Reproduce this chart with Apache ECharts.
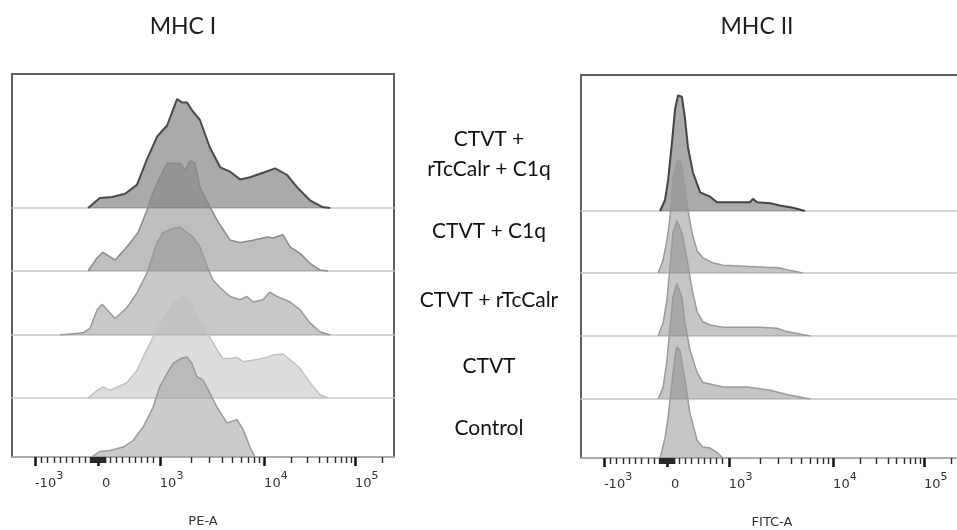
<!DOCTYPE html>
<html><head><meta charset="utf-8">
<script src="https://cdn.jsdelivr.net/npm/echarts@6/dist/echarts.min.js"></script>
<style>html,body{margin:0;padding:0;background:#fff}#c{width:957px;height:530px}</style>
</head><body><div id="c"></div>
<script>
// ---------- text ----------
const panelTitles = ['MHC I', 'MHC II'];
const axisNames = ['PE-A', 'FITC-A'];
const sampleNames = ['CTVT +\nrTcCalr + C1q', 'CTVT + C1q', 'CTVT + rTcCalr', 'CTVT', 'Control'];
const tickValues = [-1000, 0, 1000, 10000, 100000];
const tickLabels = [['-10', '3'], [' 0', ' '], ['10', '3'], ['10', '4'], ['10', '5']];

// ---------- histogram data: [display channel 0-1000, count] ----------
// MHC I (PE-A)
const mhc1_rTcCalr_C1q = [[199,0],[230,9],[262,10],[296,13],[327,21],[353,44],[380,65],[406,75],[432,99],[445,96],[458,96],[471,89],[492,80],[518,55],[545,37],[571,33],[597,26],[623,28],[657,32],[689,36],[720,30],[746,19],[780,7],[812,1],[833,0]];
const mhc1_C1q = [[199,0],[223,12],[238,17],[270,10],[301,22],[330,35],[353,55],[369,71],[387,85],[406,98],[440,98],[453,92],[466,100],[479,98],[492,76],[511,63],[537,46],[571,28],[597,26],[631,28],[668,31],[683,30],[709,33],[728,22],[754,16],[780,7],[806,1],[827,0]];
const mhc1_rTcCalr = [[126,0],[186,2],[204,6],[223,23],[236,28],[249,23],[270,15],[301,25],[327,38],[353,56],[380,84],[395,93],[422,97],[440,98],[458,93],[474,89],[492,80],[511,62],[526,50],[545,43],[571,35],[597,32],[615,35],[631,30],[657,32],[675,39],[694,35],[728,30],[754,23],[780,11],[806,3],[833,0]];
const mhc1_CTVT = [[199,0],[223,7],[238,10],[257,7],[301,14],[327,25],[353,44],[369,55],[380,62],[395,71],[422,86],[448,92],[466,89],[484,74],[500,66],[513,58],[537,44],[552,36],[571,36],[589,37],[605,33],[641,35],[668,37],[683,39],[709,40],[728,35],[754,27],[780,14],[806,3],[827,0]];
const mhc1_Control = [[209,0],[217,2],[230,5],[257,6],[291,9],[317,15],[343,27],[369,45],[387,64],[406,76],[422,85],[445,90],[458,91],[471,85],[484,73],[500,70],[518,58],[537,45],[563,31],[589,34],[605,25],[623,9],[636,0]];
// MHC II (FITC-A)
const mhc2_rTcCalr_C1q = [[207,0],[220,10],[228,28],[238,62],[246,92],[254,105],[264,104],[272,85],[280,58],[293,35],[312,17],[338,13],[356,8],[442,8],[450,11],[461,8],[495,7],[521,5],[555,3],[586,0]];
const mhc2_C1q = [[202,0],[215,12],[225,30],[233,50],[241,85],[249,98],[254,103],[262,100],[272,78],[280,57],[291,36],[304,20],[319,14],[346,9],[372,7],[495,5],[513,5],[539,3],[581,0]];
const mhc2_rTcCalr = [[202,0],[215,12],[225,33],[233,63],[241,94],[251,105],[264,94],[278,69],[291,42],[304,22],[319,13],[338,10],[372,8],[424,8],[469,8],[513,7],[539,4],[600,0]];
const mhc2_CTVT = [[202,0],[215,11],[225,35],[233,65],[241,93],[251,105],[264,93],[272,69],[285,45],[304,24],[319,15],[346,13],[372,11],[435,11],[495,8],[539,4],[600,0]];
const mhc2_Control = [[207,0],[220,18],[228,37],[238,68],[246,92],[251,101],[259,98],[272,71],[285,41],[304,16],[319,10],[338,9],[356,5],[372,0]];

const panelData = [
  [mhc1_rTcCalr_C1q, mhc1_C1q, mhc1_rTcCalr, mhc1_CTVT, mhc1_Control],
  [mhc2_rTcCalr_C1q, mhc2_C1q, mhc2_rTcCalr, mhc2_CTVT, mhc2_Control]
];

// ---------- display scale (biexponential-like: linear near 0, log above 10^3) ----------
const scaleAnchors = [[-1000, 60], [0, 225], [1000, 387], [10000, 660], [100000, 898]];
function toChannel(v) {
  const a = scaleAnchors;
  if (v <= 1000) {
    const [v0, c0] = v <= 0 ? a[0] : a[1];
    const [v1, c1] = v <= 0 ? a[1] : a[2];
    return c0 + (c1 - c0) * (v - v0) / (v1 - v0);
  }
  let i = v <= 10000 ? 2 : 3;
  const [v0, c0] = a[i], [v1, c1] = a[i + 1];
  return c0 + (c1 - c0) * Math.log10(v / v0) / Math.log10(v1 / v0);
}
const minorValues = [];
for (let k = 1; k <= 9; k++) { minorValues.push(-k * 100, k * 100); }
for (let k = -12; k <= 12; k++) { if (k !== 0) minorValues.push(k * 10); }
for (let k = 2; k <= 9; k++) { minorValues.push(k * 1000, k * 10000); }
minorValues.push(200000);
const majorCh = tickValues.map(toChannel);
const minorCh = minorValues.map(toChannel);

// ---------- layout & styles ----------
const panels = [
  { left: 12, top: 74, bottom: 457, baselines: [208, 271, 335, 398, 457], titleX: 183 },
  { left: 581, top: 75, bottom: 458, baselines: [211, 273, 336, 399, 458], titleX: 757 }
];
const boxW = 382, ridgeH = 132, yMax = 120;
const styles = [
  [
    { fill: '#555555', line: '#4a4a4a', w: 2 },
    { fill: '#7d7d7d', line: '#8a8a8a', w: 1.5 },
    { fill: '#919191', line: '#999999', w: 1.5 },
    { fill: '#bbbbbb', line: '#c2c2c2', w: 1.5 },
    { fill: '#979797', line: '#9a9a9a', w: 1.5 }
  ],
  [
    { fill: '#555555', line: '#444444', w: 2 },
    { fill: '#8c8c8c', line: '#9a9a9a', w: 1.5 },
    { fill: '#8c8c8c', line: '#9a9a9a', w: 1.5 },
    { fill: '#8c8c8c', line: '#9a9a9a', w: 1.5 },
    { fill: '#8c8c8c', line: '#9a9a9a', w: 1.5 }
  ]
];
const labelFont = 'DejaVu Sans';

const grid = [], xAxis = [], yAxis = [], series = [], graphic = [];
panels.forEach((p, pi) => {
  // box
  grid.push({ left: p.left, top: p.top, width: boxW, height: p.bottom - p.top, show: true,
    borderColor: '#5e5e5e', borderWidth: 2, backgroundColor: 'transparent', outerBoundsMode: 'none', containLabel: false });
  let gi = grid.length - 1;
  xAxis.push({ gridIndex: gi, type: 'value', min: 0, max: 1000,
    axisLine: { show: false }, splitLine: { show: false },
    axisTick: { show: true, customValues: majorCh, length: 9, lineStyle: { color: '#111', width: 2.5 } },
    axisLabel: { show: true, customValues: majorCh, margin: 14, align: 'left',
      formatter: (v) => {
        let best = 0;
        majorCh.forEach((c, i) => { if (Math.abs(c - v) < Math.abs(majorCh[best] - v)) best = i; });
        const t = tickLabels[best];
        return `{n|${t[0]}}{e|${t[1]}}`;
      },
      rich: {
        n: { fontSize: 13, fontFamily: labelFont, color: '#333', verticalAlign: 'bottom' },
        e: { fontSize: 11, fontFamily: labelFont, color: '#333', verticalAlign: 'bottom', padding: [0, 0, 8, 0] }
      } },
    name: axisNames[pi], nameLocation: 'middle', nameGap: 58,
    nameTextStyle: { fontSize: 13, fontFamily: labelFont, color: '#333' } });
  yAxis.push({ gridIndex: gi, type: 'value', show: false, min: 0, max: 1 });
  // minor ticks
  grid.push({ left: p.left, top: p.top, width: boxW, height: p.bottom - p.top, outerBoundsMode: 'none', containLabel: false });
  gi = grid.length - 1;
  xAxis.push({ gridIndex: gi, type: 'value', min: 0, max: 1000,
    axisLine: { show: false }, splitLine: { show: false }, axisLabel: { show: false },
    axisTick: { show: true, customValues: minorCh, length: 6, lineStyle: { color: '#2a2a2a', width: 1.4 } } });
  yAxis.push({ gridIndex: gi, type: 'value', show: false, min: 0, max: 1 });
  // ridges
  p.baselines.forEach((b, ri) => {
    grid.push({ left: p.left, top: b - ridgeH, width: boxW, height: ridgeH, outerBoundsMode: 'none', containLabel: false });
    const g = grid.length - 1;
    xAxis.push({ gridIndex: g, type: 'value', min: 0, max: 1000,
      axisLine: { show: true, lineStyle: { color: '#c6c6c6', width: 1.5 } },
      axisTick: { show: false }, axisLabel: { show: false }, splitLine: { show: false } });
    yAxis.push({ gridIndex: g, type: 'value', show: false, min: 0, max: yMax });
    const st = styles[pi][ri];
    series.push({ type: 'line', name: sampleNames[ri], xAxisIndex: g, yAxisIndex: g,
      data: panelData[pi][ri], showSymbol: false, symbol: 'none', smooth: false,
      lineStyle: { color: st.line, width: st.w },
      areaStyle: { color: st.fill, opacity: 0.5 }, z: 2 + ri, silent: true, animation: false });
  });
  graphic.push({ type: 'text', x: p.titleX, y: 27, style: { text: panelTitles[pi],
    font: '23px Lato', fill: '#1e1e1e', textAlign: 'center', textVerticalAlign: 'middle' } });
});

// middle sample labels
const sampleLabelY = [[139, 169], [231], [300], [366], [428]];
sampleNames.forEach((s, i) => {
  s.split('\n').forEach((line, j) => {
    graphic.push({ type: 'text', x: 489, y: sampleLabelY[i][j], style: { text: line,
      font: '21px Lato', fill: '#111', textAlign: 'center', textVerticalAlign: 'middle' } });
  });
});

const chart = echarts.init(document.getElementById('c'), null, { renderer: 'canvas' });
chart.setOption({ backgroundColor: '#ffffff', animation: false, grid, xAxis, yAxis, series, graphic });
</script></body></html>
